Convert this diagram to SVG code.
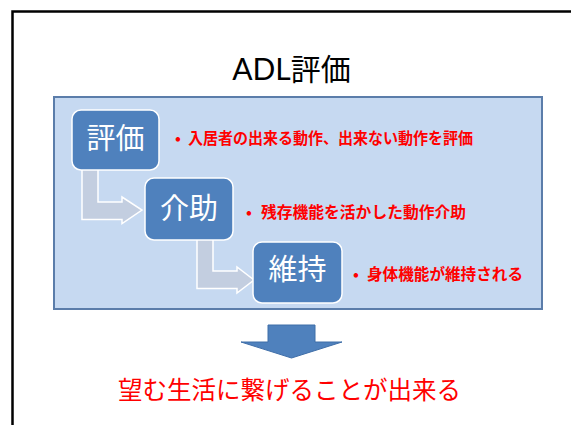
<svg xmlns="http://www.w3.org/2000/svg" width="571" height="425" viewBox="0 0 571 425">
<style>
.box{fill:#4F81BD;stroke:#FFFFFF;stroke-width:1.5}
.btxt{font-family:"Noto Sans CJK JP",sans-serif;font-size:29px;fill:#FFFFFF;text-anchor:middle}
.red{font-family:"Noto Sans CJK JP",sans-serif;font-size:15.5px;font-weight:bold;fill:#FF0000}
.conn{fill:#C3CEE0;stroke:#FFFFFF;stroke-width:1.5}
</style>
<rect x="0" y="0" width="571" height="425" fill="#FFFFFF"/>
<rect id="frame" x="12.5" y="11.5" width="600" height="500" fill="none" stroke="#000000" stroke-width="2.5"/>
<g id="title">
<text x="291.5" y="80" font-family="Lato,'Noto Sans CJK JP',sans-serif" font-size="30" text-anchor="middle" fill="#000000">ADL評価</text>
</g>
<g id="panel">
<rect x="54" y="97" width="488" height="212" fill="#C6D9F1" stroke="#5B7DAA" stroke-width="2"/>
</g>
<g id="connectors">
<polygon class="conn" points="82,168 98,168 98,202 122,202 122,197 142,210 122,223.5 122,219.5 82,219.5"/>
<polygon class="conn" points="197,238 213,238 213,271 237,271 237,267 254,280 237,293 237,288.5 197,288.5"/>
</g>
<g id="node-hyouka">
<rect class="box" x="72" y="110" width="87" height="60" rx="9"/>
<text class="btxt" x="115.5" y="148.5">評価</text>
</g>
<g id="node-kaijo">
<rect class="box" x="145" y="178" width="88" height="62" rx="9"/>
<text class="btxt" x="189" y="218.5">介助</text>
</g>
<g id="node-iji">
<rect class="box" x="253" y="242" width="89" height="61" rx="9"/>
<text class="btxt" x="297.5" y="279.5">維持</text>
</g>
<g id="label-1">
<text class="red" y="144"><tspan x="175">•</tspan><tspan x="188" textLength="285" lengthAdjust="spacingAndGlyphs">入居者の出来る動作、出来ない動作を評価</tspan></text>
</g>
<g id="label-2">
<text class="red" y="217.5"><tspan x="246">•</tspan><tspan x="261" textLength="205" lengthAdjust="spacingAndGlyphs">残存機能を活かした動作介助</tspan></text>
</g>
<g id="label-3">
<text class="red" y="279.5"><tspan x="353">•</tspan><tspan x="367" textLength="156" lengthAdjust="spacingAndGlyphs">身体機能が維持される</tspan></text>
</g>
<g id="down-arrow">
<polygon points="268,325 315,325 315,342 342,342 291.5,358 241,342 268,342" fill="#4F81BD" stroke="#3F6EA8" stroke-width="1"/>
</g>
<g id="result">
<text x="289.5" y="399" font-family="'Noto Sans CJK JP',sans-serif" font-size="24.5" text-anchor="middle" fill="#FF0000">望む生活に繋げることが出来る</text>
</g>
</svg>
